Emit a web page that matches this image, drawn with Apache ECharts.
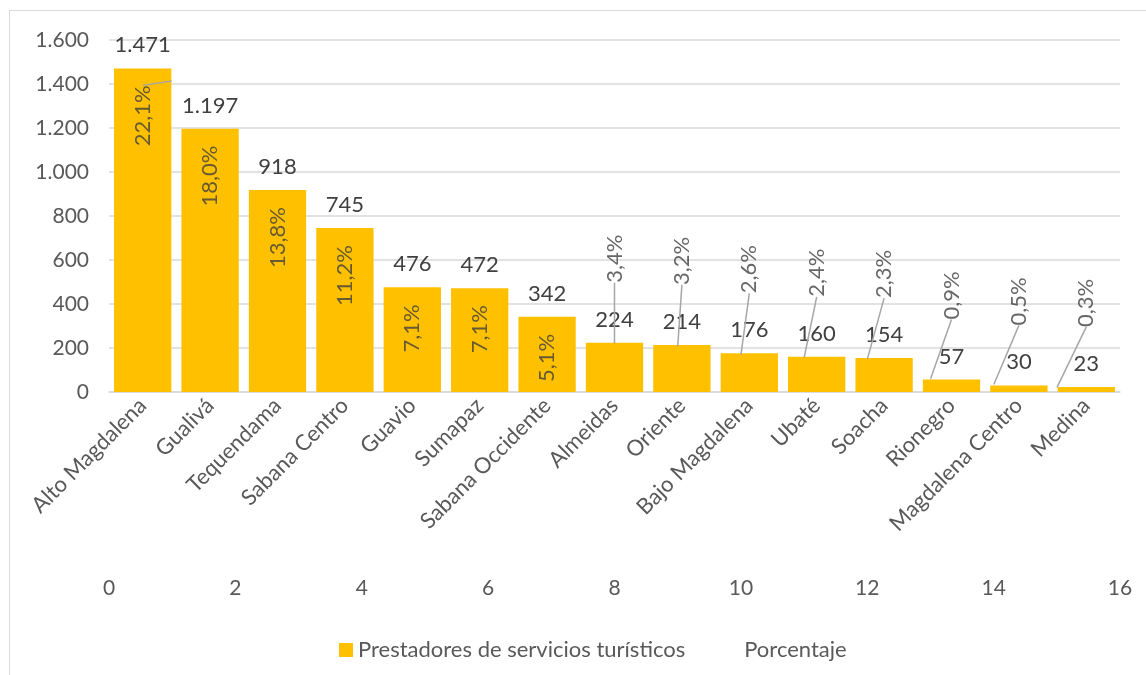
<!DOCTYPE html>
<html>

<head>
    <meta charset="utf-8">
    <title>Prestadores de servicios turísticos</title>
    <style>
        html, body { margin: 0; padding: 0; background: #fff; }
        #frame { position: absolute; left: 9px; top: 10px; width: 1150px; height: 680px; border: 1.5px solid #d9d9d9; box-sizing: border-box; }
        #chart { position: absolute; left: 0; top: 0; width: 1146px; height: 675px; }
    </style>
</head>

<body>
    <div id="frame"></div>
    <div id="chart"></div>

    <script src="https://cdn.jsdelivr.net/npm/echarts@6/dist/echarts.min.js"></script>
    <script>
        // provincias
        const provincias = ['Alto Magdalena', 'Gualivá', 'Tequendama', 'Sabana Centro', 'Guavio',
            'Sumapaz', 'Sabana Occidente', 'Almeidas', 'Oriente', 'Bajo Magdalena', 'Ubaté',
            'Soacha', 'Rionegro', 'Magdalena Centro', 'Medina'];
        // prestadores por provincia
        const prestadores = [1471, 1197, 918, 745, 476, 472, 342, 224, 214, 176, 160, 154, 57, 30, 23];
        // porcentaje (%)
        const porcentaje = [22.1, 18.0, 13.8, 11.2, 7.1, 7.1, 5.1, 3.4, 3.2, 2.6, 2.4, 2.3, 0.9, 0.5, 0.3];
        // posicion x del punto en el eje secundario
        const posX = [1, 2, 3, 4, 5, 6, 7, 8, 9, 10, 11, 12, 13, 14, 15];

        const FONT = 'Lato';
        const chart = echarts.init(document.getElementById('chart'));

        const miles = v => String(v).replace(/\B(?=(\d{3})+(?!\d))/g, '.');

        // etiquetas dentro de la barra para las primeras 7
        const nInside = 7;

        const pctData = porcentaje.map((p, i) => ({
            value: [posX[i], p],
            labelLine: { show: i === 0 || i >= nInside }
        }));

        const option = {
            animation: false,
            textStyle: { fontFamily: FONT },
            grid: { left: 109, right: 26, top: 40, bottom: 283 },
            legend: {
                left: 334,
                top: 634,
                itemWidth: 14,
                itemHeight: 14,
                itemGap: 40,
                itemTextGap: 5,
                icon: 'rect',
                textStyle: { fontFamily: FONT, fontSize: 22, color: '#595959' },
                data: [
                    'Prestadores de servicios turísticos',
                    { name: 'Porcentaje', itemStyle: { color: 'rgba(0,0,0,0)' } }
                ]
            },
            xAxis: [{
                type: 'category',
                data: provincias,
                axisTick: { show: false },
                axisLine: { lineStyle: { color: '#d9d9d9', width: 1.5 } },
                axisLabel: { rotate: 45, fontSize: 22, color: '#595959', fontFamily: FONT, margin: 10, interval: 0 }
            }, {
                type: 'value',
                position: 'bottom',
                offset: 178,
                min: 0,
                max: 16,
                interval: 2,
                axisLine: { show: false },
                axisTick: { show: false },
                splitLine: { show: false },
                axisLabel: { fontSize: 21, color: '#595959', fontFamily: FONT }
            }],
            yAxis: [{
                type: 'value',
                min: 0,
                max: 1600,
                interval: 200,
                axisLine: { show: false },
                axisTick: { show: false },
                splitLine: { lineStyle: { color: '#d9d9d9', width: 1.5 } },
                axisLabel: { fontSize: 21, color: '#595959', fontFamily: FONT, margin: 20, formatter: miles }
            }, {
                type: 'value',
                min: 0,
                max: 25,
                show: false,
                splitLine: { show: false }
            }],
            series: [{
                name: 'Prestadores de servicios turísticos',
                type: 'bar',
                data: prestadores,
                barCategoryGap: '15%',
                itemStyle: { color: '#ffc000' },
                label: {
                    show: true,
                    position: 'top',
                    distance: 12,
                    fontSize: 22,
                    color: '#404040',
                    fontFamily: FONT,
                    formatter: p => miles(p.value)
                }
            }, {
                name: 'Porcentaje',
                type: 'scatter',
                xAxisIndex: 1,
                yAxisIndex: 1,
                symbolSize: 1,
                itemStyle: { color: 'rgba(0,0,0,0)' },
                data: pctData,
                label: {
                    show: true,
                    rotate: 90,
                    fontSize: 22,
                    color: '#404040',
                    fontFamily: FONT,
                    formatter: p => p.value[1].toFixed(1).replace('.', ',') + '%'
                },
                labelLine: {
                    show: true,
                    lineStyle: { color: '#a6a6a6', width: 1.5 }
                },
                labelLayout: function (params) {
                    const i = params.dataIndex;
                    const top = chart.convertToPixel({ xAxisIndex: 0, yAxisIndex: 0 }, [i, prestadores[i]]);
                    if (i < nInside) {
                        return { x: top[0], y: top[1] + 17, align: 'right', verticalAlign: 'middle' };
                    }
                    return { x: top[0], y: top[1] - 60, align: 'left', verticalAlign: 'middle' };
                }
            }]
        };

        chart.setOption(option);
    </script>

</body>

</html>
